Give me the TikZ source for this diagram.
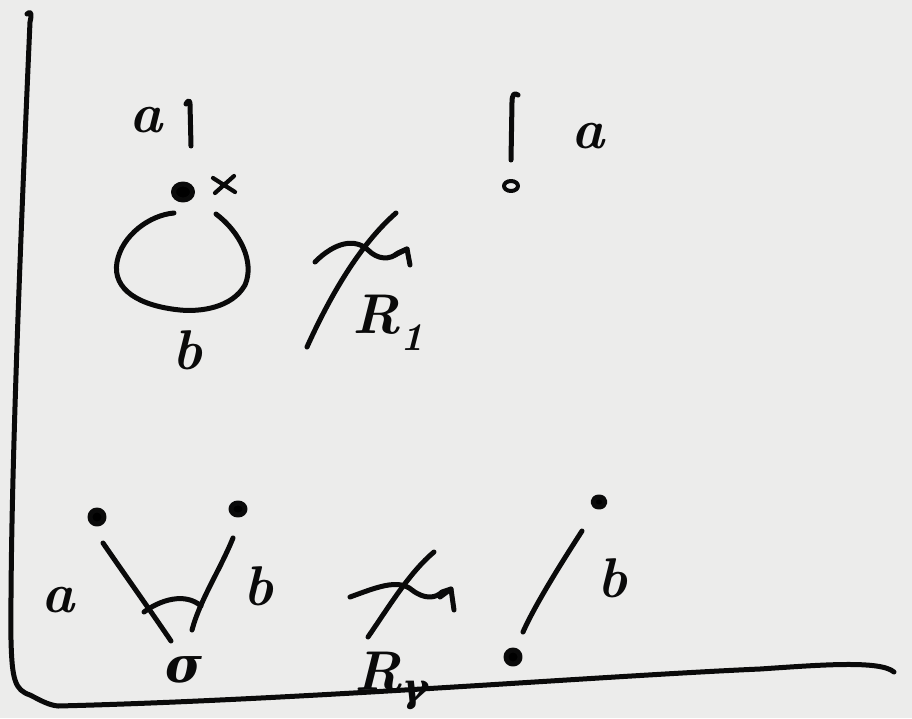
\documentclass[tikz,border=0pt]{standalone}
\usepackage{fontspec}
\newfontfamily\gkfont{DejaVu Serif}
\definecolor{paper}{RGB}{236,236,235}
\definecolor{ink}{RGB}{10,10,10}
\tikzset{
  ink/.style={draw=ink, line width=5pt, line cap=round, line join=round},
  lbl/.style={inner sep=0pt, text=ink, font=\fontsize{56}{56}\selectfont\bfseries\itshape},
}
\begin{document}
\begin{tikzpicture}[x=1pt,y=-1pt]
\fill[paper] (0,0) rectangle (912,718);
\useasboundingbox (0,0) rectangle (912,718);
% frame (axes)
\draw[ink] (27,14) .. controls (31,10) and (32,14) .. (30,22) .. controls (20,250) and (10,500) .. (11,640)
  .. controls (12,680) and (15,690) .. (30,695) .. controls (40,700) and (48,705) .. (58,706)
  .. controls (300,700) and (600,676) .. (760,669) .. controls (820,665) and (880,660) .. (894,672);
% ---------- top left: curl ----------
\coordinate (tlBot) at (191,146);
\draw[ink] (186,104) .. controls (188,100) and (190,100) .. (190,104) -- (tlBot);
\node[lbl] (tla) at (146,120) {a};
\fill[ink] (183,192) ellipse [x radius=9.5, y radius=8];
\draw[ink, line width=4.2pt] (213,178) -- (235,192) (215,193) -- (234,176);
\coordinate (loopR) at (216,214);
\draw[ink] (loopR) .. controls (240,232) and (255,262) .. (245,285)
  .. controls (232,308) and (200,312) .. (180,310)
  .. controls (140,306) and (112,290) .. (117,262)
  .. controls (122,235) and (150,215) .. (174,213);
\node[lbl] (tlb) at (187,350) {b};
% ---------- top middle: slashed arrow R1 ----------
\coordinate (m1s) at (315,262);
\coordinate (m1e) at (407,249);
\draw[ink] (m1s) .. controls (335,242) and (355,238) .. (368,250)
  .. controls (378,260) and (390,260) .. (398,253) -- (m1e) -- (410,265);
\draw[ink] (395,255) -- (407,249);
\coordinate (sl1a) at (396,213);
\coordinate (sl1b) at (307,347);
\draw[ink] (sl1a) .. controls (365,240) and (335,285) .. (sl1b);
\node[lbl, anchor=base west] (r1) at (352,333) {R\textsubscript{1}};
% ---------- top right ----------
\coordinate (trTop) at (518,95);
\coordinate (trBot) at (511,160);
\draw[ink] (trTop) .. controls (514,92) and (512,95) .. (512,102) -- (trBot);
\draw[ink, line width=4pt] (511,186) ellipse [x radius=7, y radius=5];
\node[lbl] (tra) at (588,136) {a};
% ---------- bottom left: vertex ----------
\fill[ink] (97,517) circle [radius=7];
\fill[ink] (238,509) ellipse [x radius=7, y radius=6];
\coordinate (v1a) at (103,543);
\coordinate (v1b) at (171,641);
\coordinate (v2a) at (233,538);
\coordinate (v2b) at (192,630);
\draw[ink] (v1a) .. controls (125,575) and (150,610) .. (v1b);
\draw[ink] (v2a) .. controls (220,570) and (200,600) .. (v2b);
\draw[ink] (144,612) .. controls (160,600) and (185,592) .. (201,606);
\node[lbl] (bla) at (58,600) {a};
\node[lbl] (blb) at (258,586) {b};
\node[lbl, font=\fontsize{50}{50}\selectfont\gkfont\bfseries\itshape] (blc) at (184,670) {σ};
% ---------- bottom middle: slashed arrow ----------
\coordinate (m2s) at (350,597);
\coordinate (m2e) at (451,589);
\draw[ink] (m2s) .. controls (375,588) and (398,578) .. (412,590)
  .. controls (425,600) and (436,598) .. (442,592) -- (m2e) -- (454,610);
\draw[ink] (440,597) -- (451,589);
\coordinate (sl2a) at (434,552);
\coordinate (sl2b) at (368,637);
\draw[ink] (sl2a) .. controls (410,572) and (390,605) .. (sl2b);
\node[lbl, anchor=base west] (r2) at (354,690) {R\textsubscript{\gkfont\bfseries\itshape γ}};
% ---------- bottom right ----------
\fill[ink] (599,502) ellipse [x radius=6, y radius=5];
\coordinate (brTop) at (582,531);
\coordinate (brBot) at (523,632);
\draw[ink] (brTop) .. controls (560,565) and (535,605) .. (brBot);
\fill[ink] (513,657) circle [radius=7];
\node[lbl] (brb) at (612,578) {b};
\end{tikzpicture}
\end{document}
